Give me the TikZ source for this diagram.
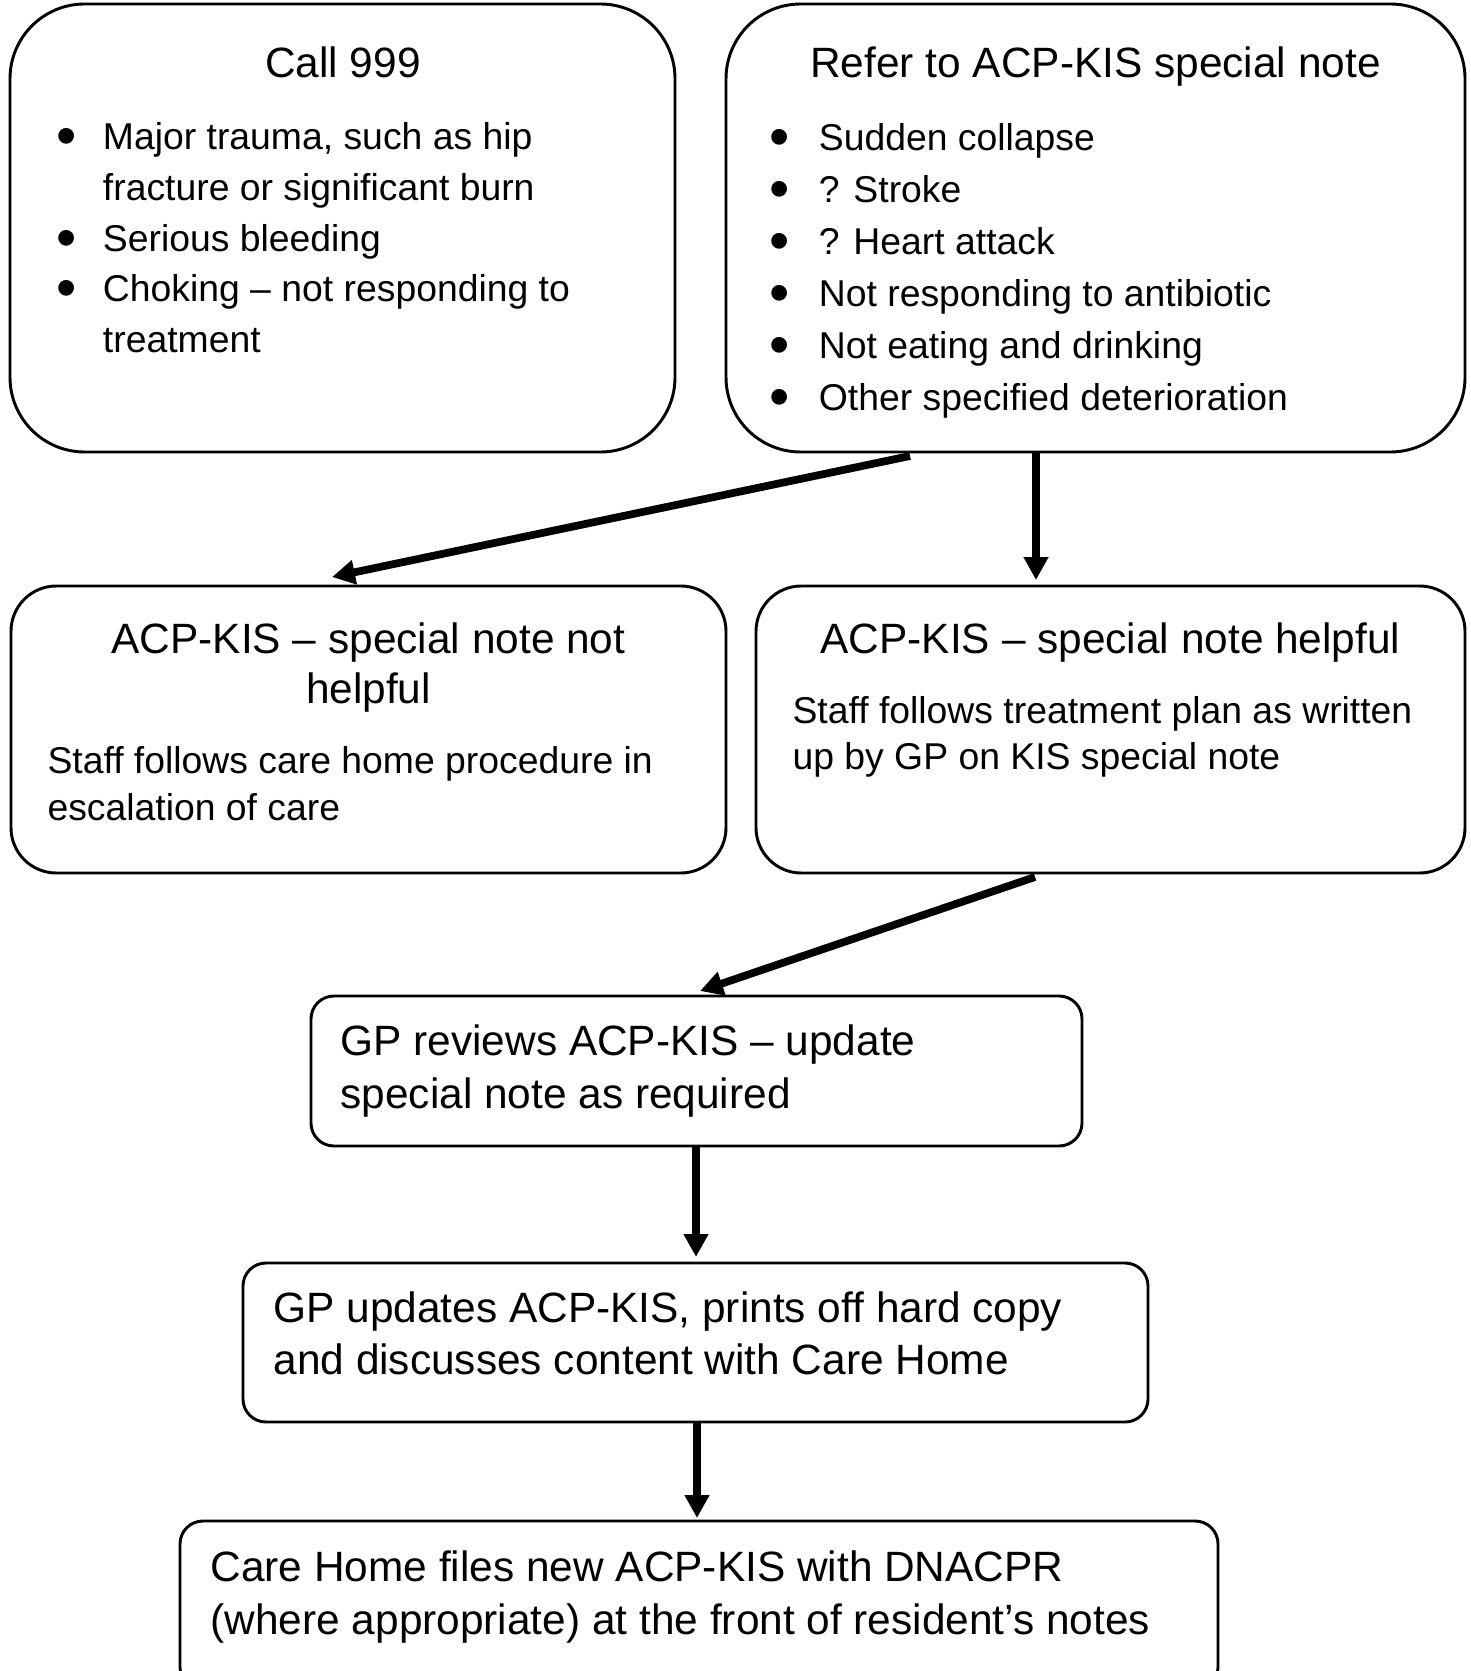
\documentclass[tikz,border=0pt]{standalone}
\usepackage{fontspec}
\usepackage{graphicx}
\setmainfont{Liberation Sans}
\usetikzlibrary{arrows.meta,calc,fit}
\newcommand{\bul}{\makebox[17.6pt][l]{\smash{\raisebox{-2.2pt}{\scalebox{1.55}{\textbullet}}}}}
\newcommand{\bulb}{\makebox[18.7pt][l]{\smash{\raisebox{-2.2pt}{\scalebox{1.55}{\textbullet}}}}}
\newcommand{\ind}{\hspace*{17.6pt}}
\tikzset{
  box/.style={draw, line width=1.1pt, inner sep=0pt, outer sep=0pt},
  bigr/.style={rounded corners=28pt},
  midr/.style={rounded corners=17pt},
  smr/.style={rounded corners=8.6pt},
  ttl/.style={inner sep=0pt, anchor=base, align=center},
  txt/.style={inner sep=0pt, anchor=base west},
  conn/.style={line width=2.9pt, -{Triangle[length=8.6pt,width=8.8pt]}}
}
\begin{document}
\begin{tikzpicture}[x=0.375pt, y=-0.375pt]
\clip (0,0) rectangle (1470,1671);
\fill[white] (0,0) rectangle (1470,1671);
% boxes
\node[box, bigr, fit={(10,4) (675,452)}] (b1) {};
\node[box, bigr, fit={(726,4) (1465,452)}] (b2) {};
\node[box, midr, fit={(11,586) (726,873)}] (b3) {};
\node[box, midr, fit={(756,586) (1465,873)}] (b4) {};
\node[box, smr, fit={(311,996) (1082,1146)}] (b5) {};
\node[box, smr, fit={(243,1263) (1148,1422)}] (b6) {};
\node[box, smr, fit={(180,1521) (1218,1690)}] (b7) {};
% texts
\node[ttl, font=\fontsize{15.9}{18.75}\selectfont] (t1) at (343,78) {Call 999};
\node[txt] (l1) at (55.5,150) {\parbox[t]{300pt}{\fontsize{14}{19.0}\selectfont
\bul Major trauma, such as hip\\
\ind fracture or significant burn\\
\bul Serious bleeding\\
\bul Choking – not responding to\\
\ind treatment}};
\node[ttl, font=\fontsize{15.9}{18.75}\selectfont] (t2) at (1095.5,78) {Refer to ACP-KIS special note};
\node[txt] (l2) at (768.5,151) {\parbox[t]{300pt}{\fontsize{14}{19.45}\selectfont
\bulb Sudden collapse\\
\bulb ? Stroke\\
\bulb ? Heart attack\\
\bulb Not responding to antibiotic\\
\bulb Not eating and drinking\\
\bulb Other specified deterioration}};
\node[ttl, font=\fontsize{15.9}{18.75}\selectfont] (t3) at (368.5,703) {ACP-KIS – special note not\\helpful};
\node[txt] (l3) at (47,773) {\parbox[t]{300pt}{\fontsize{14}{17.7}\selectfont
Staff follows care home procedure in\\
escalation of care}};
\node[ttl, font=\fontsize{15.9}{18.75}\selectfont] (t4) at (1110.5,653) {ACP-KIS – special note helpful};
\node[txt] (l4) at (792,723) {\parbox[t]{300pt}{\fontsize{14}{17.3}\selectfont
Staff follows treatment plan as written\\
up by GP on KIS special note}};
\node[txt] (l5) at (340,1055) {\parbox[t]{380pt}{\fontsize{15.9}{19.9}\selectfont
GP reviews ACP-KIS – update\\
special note as required}};
\node[txt] (l6) at (273,1322) {\parbox[t]{380pt}{\fontsize{15.9}{19.8}\selectfont
GP updates ACP-KIS, prints off hard copy\\
and discusses content with Care Home}};
\node[txt] (l7) at (210,1581) {\parbox[t]{420pt}{\fontsize{15.9}{19.9}\selectfont
Care Home files new ACP-KIS with DNACPR\\
(where appropriate) at the front of resident’s notes}};
% connectors
\draw[conn] ($(b2.south)+(-185.5,4)$) -- ($(b3.north)+(-36.5,-9)$);
\draw[conn] ($(b2.south)+(-59.5,0)$) -- ($(b4.north)+(-74.5,-6)$);
\draw[conn] ($(b4.south)+(-75.5,4)$) -- ($(b5.north)+(3.5,-5)$);
\draw[conn] ($(b5.south)+(-0.5,0)$) -- ($(b6.north)+(0.5,-6)$);
\draw[conn] ($(b6.south)+(1.5,0)$) -- ($(b7.north)+(-2,-3)$);
\end{tikzpicture}
\end{document}
